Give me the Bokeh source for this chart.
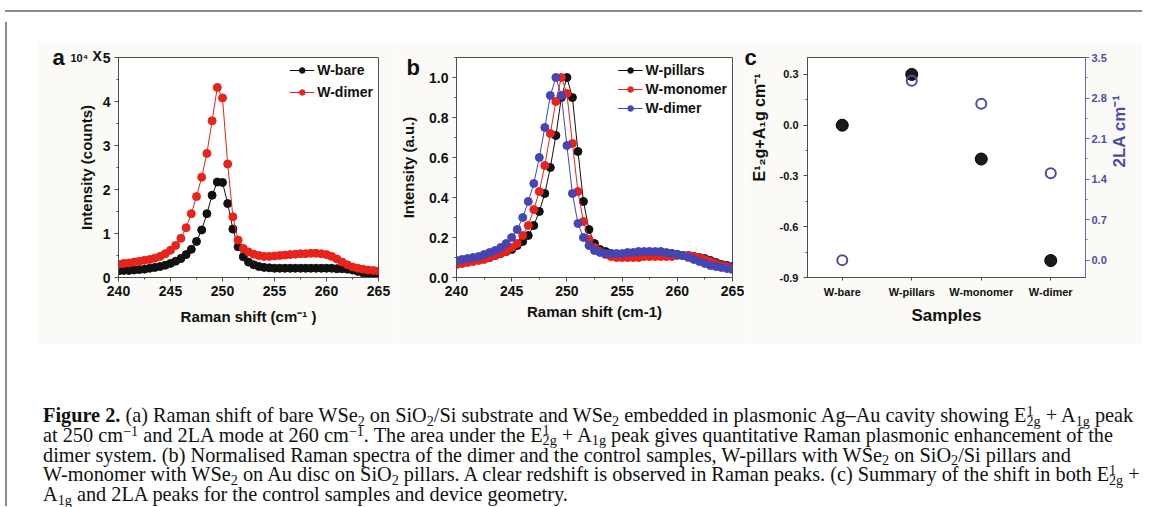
import math
from bokeh.plotting import figure
from bokeh.models import (Range1d, LinearAxis, SingleIntervalTicker, FixedTicker,
                          PrintfTickFormatter, Title, Div, Spacer, FactorRange)
from bokeh.core.properties import value
from bokeh.layouts import row, column
from bokeh.embed import file_html
from bokeh.resources import INLINE

# ---------------- data ----------------
shift = [240.0, 240.5, 241.0, 241.5, 242.0, 242.5, 243.0, 243.5, 244.0, 244.5,
         245.0, 245.5, 246.0, 246.5, 247.0, 247.5, 248.0, 248.5, 249.0, 249.5,
         250.0, 250.5, 251.0, 251.5, 252.0, 252.5, 253.0, 253.5, 254.0, 254.5,
         255.0, 255.5, 256.0, 256.5, 257.0, 257.5, 258.0, 258.5, 259.0, 259.5,
         260.0, 260.5, 261.0, 261.5, 262.0, 262.5, 263.0, 263.5, 264.0, 264.5,
         265.0]

# panel a (x 10^4 counts)
a_bare = [0.15, 0.16, 0.16, 0.17, 0.18, 0.19, 0.21, 0.23, 0.25, 0.28,
          0.32, 0.37, 0.43, 0.52, 0.64, 0.82, 1.08, 1.45, 1.87, 2.17,
          2.16, 1.68, 1.10, 0.70, 0.47, 0.35, 0.29, 0.25, 0.23, 0.22,
          0.21, 0.21, 0.21, 0.21, 0.21, 0.21, 0.21, 0.21, 0.21, 0.21,
          0.21, 0.21, 0.20, 0.20, 0.19, 0.17, 0.14, 0.11, 0.09, 0.07,
          0.06]
a_dimer = [0.30, 0.32, 0.33, 0.35, 0.37, 0.39, 0.41, 0.44, 0.48, 0.54,
           0.62, 0.73, 0.89, 1.13, 1.45, 1.84, 2.28, 2.82, 3.56, 4.32,
           4.08, 2.58, 1.38, 0.85, 0.66, 0.58, 0.53, 0.50, 0.48, 0.48,
           0.49, 0.50, 0.51, 0.52, 0.53, 0.54, 0.54, 0.55, 0.55, 0.54,
           0.52, 0.48, 0.42, 0.35, 0.29, 0.24, 0.21, 0.19, 0.17, 0.16,
           0.15]

# panel b (normalised)
b_pillars = [0.075, 0.08, 0.08, 0.085, 0.09, 0.095, 0.10, 0.11, 0.12, 0.13,
             0.14, 0.16, 0.18, 0.21, 0.26, 0.33, 0.42, 0.55, 0.71, 0.90,
             1.00, 0.90, 0.63, 0.38, 0.24, 0.17, 0.14, 0.13, 0.12, 0.115,
             0.115, 0.115, 0.115, 0.115, 0.12, 0.12, 0.12, 0.12, 0.12, 0.12,
             0.115, 0.11, 0.11, 0.105, 0.10, 0.095, 0.085, 0.075, 0.065, 0.06,
             0.055]
b_monomer = [0.065, 0.07, 0.075, 0.08, 0.085, 0.09, 0.10, 0.11, 0.12, 0.13,
             0.15, 0.17, 0.21, 0.26, 0.34, 0.43, 0.56, 0.72, 0.88, 1.00,
             0.92, 0.67, 0.43, 0.28, 0.19, 0.15, 0.13, 0.115, 0.105, 0.10,
             0.10, 0.10, 0.10, 0.10, 0.105, 0.105, 0.105, 0.105, 0.105, 0.105,
             0.11, 0.11, 0.11, 0.105, 0.10, 0.09, 0.08, 0.07, 0.06, 0.055,
             0.05]
b_dimer = [0.085, 0.09, 0.095, 0.10, 0.105, 0.115, 0.125, 0.135, 0.15, 0.17,
           0.20, 0.24, 0.30, 0.38, 0.47, 0.60, 0.75, 0.91, 1.00, 0.91,
           0.66, 0.42, 0.27, 0.20, 0.16, 0.135, 0.125, 0.12, 0.12, 0.12,
           0.12, 0.125, 0.125, 0.13, 0.13, 0.13, 0.13, 0.13, 0.125, 0.12,
           0.115, 0.11, 0.10, 0.09, 0.08, 0.07, 0.06, 0.055, 0.05, 0.045,
           0.04]

# panel c
samples = ["W-bare", "W-pillars", "W-monomer", "W-dimer"]
shift_e2g_a1g = [0.0, 0.3, -0.2, -0.8]
shift_2la = [0.0, 3.1, 2.7, 1.5]

c_left_ticks = [-0.9, -0.6, -0.3, 0.0, 0.3]
c_left_minor = [-0.75, -0.45, -0.15, 0.15]
c_right_ticks = [0.0, 0.7, 1.4, 2.1, 2.8, 3.5]
c_right_minor = [0.35, 1.05, 1.75, 2.45, 3.15]

# ---------------- style ----------------
BEIGE = "#fbfaf6"
AX = "#4d4d4d"
BLACK = "#111111"
RED = "#e8231b"
BLUE = "#4545b5"
PURPLE = "#4b4ba6"
FONT = "Liberation Sans"


def style_fig(p):
    p.outline_line_color = AX
    p.outline_line_width = 1
    p.grid.visible = False
    p.background_fill_color = "white"
    p.border_fill_color = BEIGE


def style_axis(ax, tsize, tstand, lsize, lstand, color=BLACK, line=AX):
    ax.axis_line_color = line
    ax.major_tick_line_color = line
    ax.minor_tick_line_color = line
    ax.major_tick_out = 4
    ax.major_tick_in = 0
    ax.minor_tick_out = 2
    ax.minor_tick_in = 0
    ax.major_label_text_font = FONT
    ax.major_label_text_font_style = "bold"
    ax.major_label_text_font_size = f"{tsize}px"
    ax.major_label_text_color = color
    ax.major_label_standoff = tstand
    ax.axis_label_text_font = FONT
    ax.axis_label_text_font_style = "bold"
    ax.axis_label_text_font_size = f"{lsize}px"
    ax.axis_label_text_color = color
    ax.axis_label_standoff = lstand


def style_legend(p, spacing):
    lg = p.legend[0]
    lg.location = "top_right"
    lg.background_fill_alpha = 0
    lg.border_line_alpha = 0
    lg.label_text_font = FONT
    lg.label_text_font_style = "bold"
    lg.label_text_font_size = "14px"
    lg.label_text_color = BLACK
    lg.glyph_width = 25
    lg.glyph_height = 14
    lg.label_height = 14
    lg.label_standoff = 3
    lg.spacing = spacing
    lg.padding = 2
    lg.margin = 3


def panel_tag(p, text, size, offset, standoff):
    """Text placed in the panel above the frame, shifted left of / down into the frame edge."""
    kw = dict(text=text, align="left", vertical_align="bottom", offset=offset, standoff=standoff,
              text_font_style="bold", text_font_size=f"{size}px", text_color=BLACK)
    try:
        t = Title(text_font=value(FONT), **kw)
    except Exception:
        t = Title(text_font=FONT, **kw)
    p.add_layout(t, "above")


# ---------------- panel a ----------------
fa = figure(width=360, height=302, x_range=Range1d(240, 265), y_range=Range1d(0, 5),
            output_backend="svg", toolbar_location=None,
            min_border_left=81, min_border_right=19, min_border_top=15, min_border_bottom=67)
style_fig(fa)
fa.xaxis.ticker = SingleIntervalTicker(interval=5, num_minor_ticks=2)
fa.yaxis.ticker = SingleIntervalTicker(interval=1, num_minor_ticks=2)
fa.xaxis.axis_label = "Raman shift (cm⁻¹ )"
fa.yaxis.axis_label = "Intensity (counts)"
style_axis(fa.xaxis[0], 14, 4, 15, 9)
style_axis(fa.yaxis[0], 14, 4, 15, 5)

fa.line(shift, a_bare, line_color=BLACK, line_width=1, legend_label="W-bare")
fa.scatter(shift, a_bare, size=8, fill_color=BLACK, line_color=BLACK, legend_label="W-bare")
fa.line(shift, a_dimer, line_color=RED, line_width=1, legend_label="W-dimer")
fa.scatter(shift, a_dimer, size=8, fill_color=RED, line_color=RED, legend_label="W-dimer")
style_legend(fa, 6)

panel_tag(fa, "a", 22, -66, -25)
panel_tag(fa, "X", 14, -26, -17)
panel_tag(fa, "10⁴", 11, -48, -19)

# ---------------- panel b ----------------
fb = figure(width=347, height=302, x_range=Range1d(240, 265), y_range=Range1d(0, 1.1),
            output_backend="svg", toolbar_location=None,
            min_border_left=59, min_border_right=12, min_border_top=14, min_border_bottom=64)
style_fig(fb)
fb.xaxis.ticker = SingleIntervalTicker(interval=5, num_minor_ticks=2)
fb.yaxis.ticker = SingleIntervalTicker(interval=0.2, num_minor_ticks=2)
fb.yaxis.formatter = PrintfTickFormatter(format="%.1f")
fb.xaxis.axis_label = "Raman shift (cm-1)"
fb.yaxis.axis_label = "Intensity (a.u.)"
style_axis(fb.xaxis[0], 14, 4, 15, 4)
style_axis(fb.yaxis[0], 14, 4, 15, 9)

for ys, col, name in [(b_pillars, BLACK, "W-pillars"), (b_monomer, RED, "W-monomer"),
                      (b_dimer, BLUE, "W-dimer")]:
    fb.line(shift, ys, line_color=col, line_width=1, legend_label=name)
    fb.scatter(shift, ys, size=8, fill_color=col, line_color=col, legend_label=name)
style_legend(fb, 3)

panel_tag(fb, "b", 22, -50, -45)

# ---------------- panel c ----------------
fc = figure(width=398, height=302, x_range=FactorRange(*samples), y_range=Range1d(-0.9, 0.4),
            output_backend="svg", toolbar_location=None,
            min_border_left=63, min_border_right=57, min_border_top=14, min_border_bottom=59)
style_fig(fc)
fc.extra_y_ranges = {"la": Range1d(-0.3, 3.5)}
fc.yaxis.ticker = FixedTicker(ticks=c_left_ticks, minor_ticks=c_left_minor)
fc.yaxis.formatter = PrintfTickFormatter(format="%.1f")
fc.xaxis.axis_label = "Samples"
# leading no-break spaces push the visible label towards the top of the axis, as in the original
fc.yaxis.axis_label = "\u00a0" * 19 + "E¹₂g+A₁g  cm⁻¹"
style_axis(fc.xaxis[0], 11, 5, 17, 5)
style_axis(fc.yaxis[0], 11, 5, 16, 9)
fc.xaxis.major_tick_out = 3
fc.xaxis.major_label_orientation = "horizontal"

right = LinearAxis(y_range_name="la", ticker=FixedTicker(ticks=c_right_ticks, minor_ticks=c_right_minor),
                   formatter=PrintfTickFormatter(format="%.1f"), axis_label="2LA  cm⁻¹")
style_axis(right, 11, 2, 17, 10, color=PURPLE, line="#6a6aaa")
if hasattr(right, "axis_label_orientation"):
    right.axis_label_orientation = math.pi / 2
fc.add_layout(right, "right")

fc.scatter(samples, shift_e2g_a1g, size=12, fill_color="#1a1a1a", line_color="#000000")
fc.scatter(samples, shift_2la, y_range_name="la", size=10, fill_color=None,
           line_color=PURPLE, line_width=2)

panel_tag(fc, "c", 22, -63, -25)

# ---------------- caption ----------------
SPAN = 'font-size:70%;line-height:0;position:relative;'


def sb(t):
    return f'<span style="{SPAN}top:0.25em">{t}</span>'


def sp(t):
    return f'<span style="{SPAN}top:-0.4em">{t}</span>'


EA = (f'E<span style="{SPAN}top:-0.45em">1</span>'
      f'<span style="{SPAN}top:0.25em;margin-left:-0.5em">2g</span>')
A1G = 'A' + sb('1g')

lines = [
    f'<b>Figure 2.</b> (a) Raman shift of bare WSe{sb("2")} on SiO{sb("2")}/Si substrate and WSe{sb("2")} '
    f'embedded in plasmonic Ag–Au cavity showing {EA} + {A1G} peak',
    f'at 250 cm{sp("−1")} and 2LA mode at 260 cm{sp("−1")}. The area under the {EA} + {A1G} peak gives '
    f'quantitative Raman plasmonic enhancement of the',
    f'dimer system. (b) Normalised Raman spectra of the dimer and the control samples, W-pillars with '
    f'WSe{sb("2")} on SiO{sb("2")}/Si pillars and',
    f'W-monomer with WSe{sb("2")} on Au disc on SiO{sb("2")} pillars. A clear redshift is observed in '
    f'Raman peaks. (c) Summary of the shift in both {EA} +',
    f'{A1G} and 2LA peaks for the control samples and device geometry.',
]
caption = Div(
    text=('<div style="font-family:\'Liberation Serif\';font-size:20.3px;line-height:19.8px;color:#111;'
          'padding-left:26px;white-space:nowrap">'
          + "<br>".join(lines) + '</div>'),
    width=1125, height=100)

# ---------------- layout ----------------
LINE = "#8c8c8c"
top_line = Div(text="", width=1137, height=2, styles={"background-color": LINE})
left_line = Div(text="", width=2, height=484, styles={"background-color": LINE})

inner = column(
    Spacer(width=1130, height=25),
    row(Spacer(width=25, height=302), fa, fb, fc),
    Spacer(width=1130, height=57),
    caption,
)
p = column(Spacer(width=1137, height=5), top_line, row(left_line, inner))

open("out.html", "w").write(file_html(p, INLINE))
